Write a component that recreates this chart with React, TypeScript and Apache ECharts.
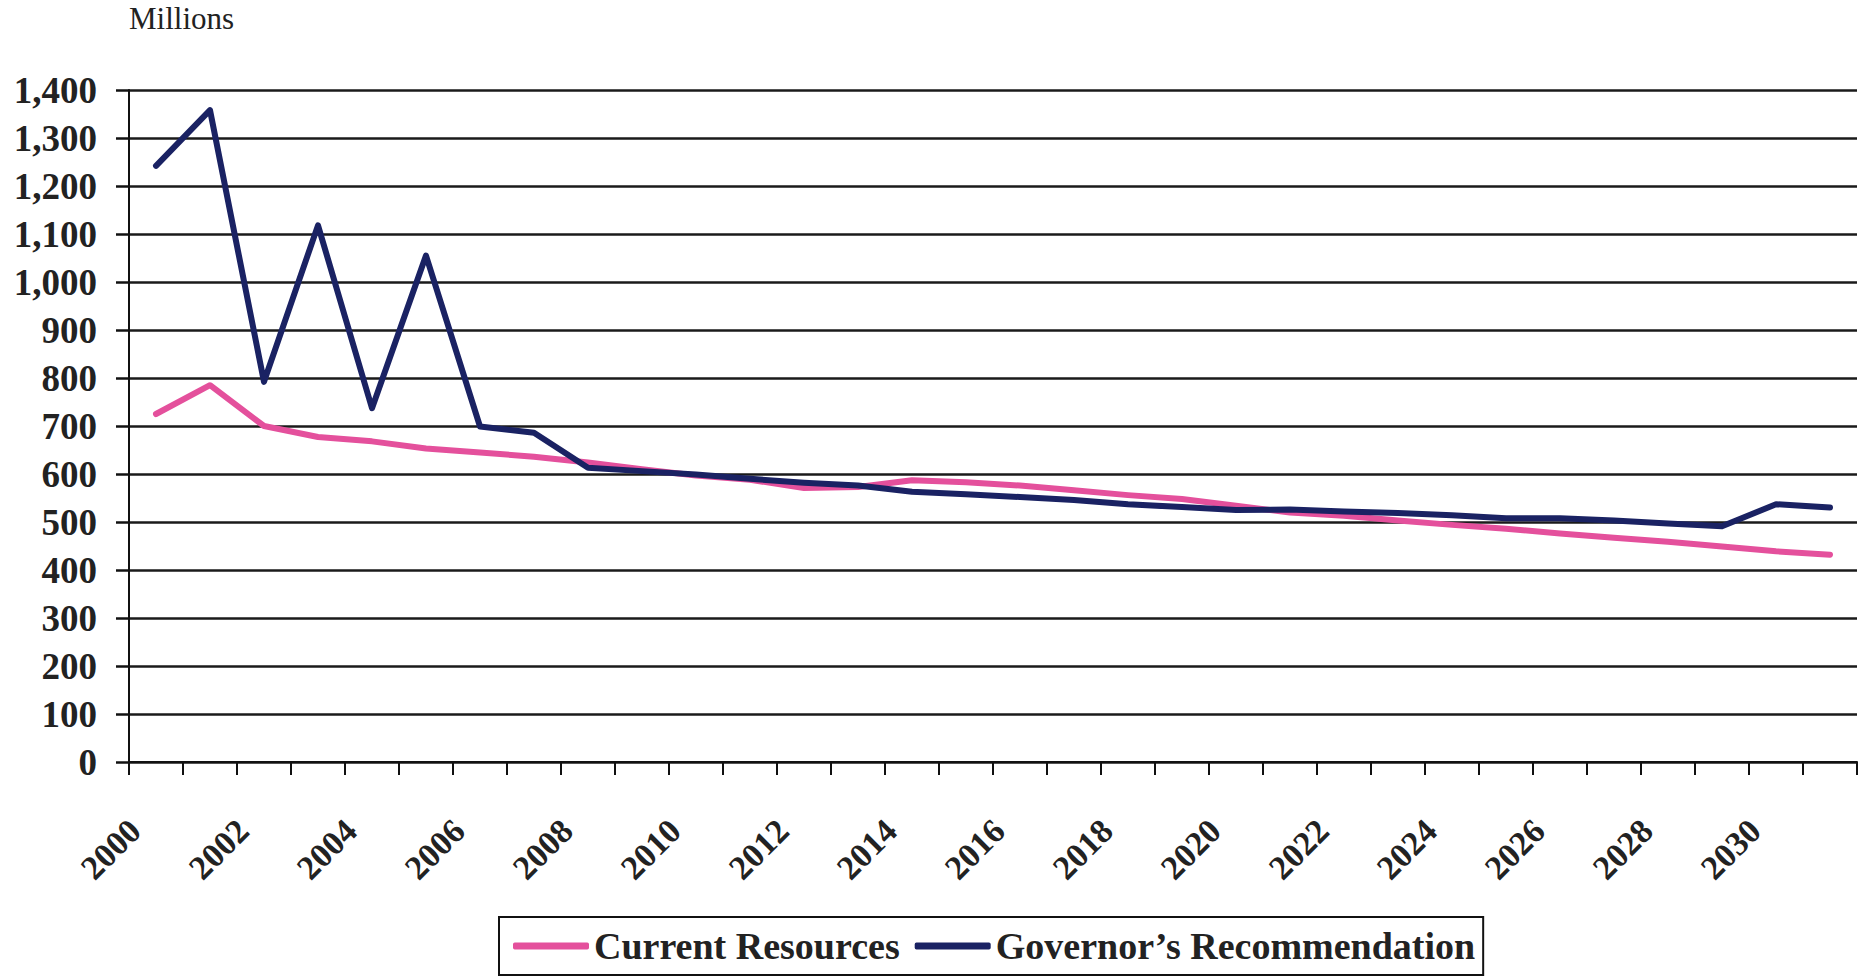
import React, { useEffect, useRef } from "react";
import * as echarts from "echarts";

// Fiscal years on the category axis
const years: string[] = [
  "2000", "2001", "2002", "2003", "2004", "2005", "2006", "2007",
  "2008", "2009", "2010", "2011", "2012", "2013", "2014", "2015",
  "2016", "2017", "2018", "2019", "2020", "2021", "2022", "2023",
  "2024", "2025", "2026", "2027", "2028", "2029", "2030", "2031",
];

// Values in millions
const currentResources: number[] = [
  725, 785, 700, 677, 668, 653, 645, 636,
  624, 610, 597, 588, 571, 573, 587, 583,
  576, 566, 556, 548, 534, 520, 513, 503,
  494, 486, 476, 467, 459, 449, 439, 432,
];

const governorsRecommendation: number[] = [
  1242, 1358, 792, 1118, 737, 1055, 699, 686,
  613, 606, 599, 590, 582, 576, 563, 558,
  552, 546, 537, 531, 525, 526, 522, 519,
  514, 508, 508, 503, 497, 491, 537, 530,
];

const seriesNames: string[] = ["Current Resources", "Governor\u2019s Recommendation"];
const seriesColors: string[] = ["#E4509C", "#1A2263"];

const SERIF = "Liberation Serif, Times New Roman, serif";

export default function App() {
  const ref = useRef<HTMLDivElement>(null);

  useEffect(() => {
    document.body.style.margin = "0";
    if (!ref.current) return;
    const chart = echarts.init(ref.current, undefined, { renderer: "svg" });

    chart.setOption({
      animation: false,
      backgroundColor: "#ffffff",
      grid: { left: 129, right: 16, top: 90, bottom: 218, containLabel: false },
      graphic: [
        {
          type: "text",
          left: 129,
          top: 3,
          style: {
            text: "Millions",
            fontFamily: SERIF,
            fontSize: 31,
            fill: "#222",
          },
        },
      ],
      legend: {
        left: 499,
        top: 917,
        orient: "horizontal",
        icon: "roundRect",
        itemWidth: 76,
        itemHeight: 7,
        itemGap: 15,
        borderColor: "#111",
        borderWidth: 2,
        borderRadius: 0,
        padding: [10, 8, 10, 14],
        textStyle: {
          fontFamily: SERIF,
          fontWeight: "bold",
          fontSize: 38,
          color: "#222",
        },
        data: seriesNames,
      },
      xAxis: {
        type: "category",
        data: years,
        boundaryGap: true,
        axisLine: { show: true, lineStyle: { color: "#111", width: 2 } },
        axisTick: {
          show: true,
          interval: 0,
          length: 13,
          lineStyle: { color: "#111", width: 2 },
        },
        axisLabel: {
          interval: 1,
          rotate: 45,
          margin: 42,
          padding: [0, 30, 0, 0],
          fontFamily: SERIF,
          fontWeight: "bold",
          fontSize: 34,
          color: "#222",
        },
        splitLine: { show: false },
      },
      yAxis: {
        type: "value",
        min: 0,
        max: 1400,
        interval: 100,
        axisLine: { show: true, lineStyle: { color: "#111", width: 2 } },
        axisTick: {
          show: true,
          length: 13,
          lineStyle: { color: "#111", width: 2.5 },
        },
        axisLabel: {
          margin: 32,
          fontFamily: SERIF,
          fontWeight: "bold",
          fontSize: 37,
          color: "#222",
          formatter: (v: number) => v.toLocaleString("en-US"),
        },
        splitLine: { show: true, lineStyle: { color: "#1a1a1a", width: 2.5 } },
      },
      series: [
        {
          name: seriesNames[0],
          type: "line",
          data: currentResources,
          showSymbol: false,
          symbol: "none",
          lineStyle: { color: seriesColors[0], width: 6, cap: "round", join: "round" },
          itemStyle: { color: seriesColors[0] },
          z: 2,
        },
        {
          name: seriesNames[1],
          type: "line",
          data: governorsRecommendation,
          showSymbol: false,
          symbol: "none",
          lineStyle: { color: seriesColors[1], width: 6, cap: "round", join: "round" },
          itemStyle: { color: seriesColors[1] },
          z: 3,
        },
      ],
    });

    return () => {
      chart.dispose();
    };
  }, []);

  return <div ref={ref} style={{ width: 1873, height: 980 }} />;
}
